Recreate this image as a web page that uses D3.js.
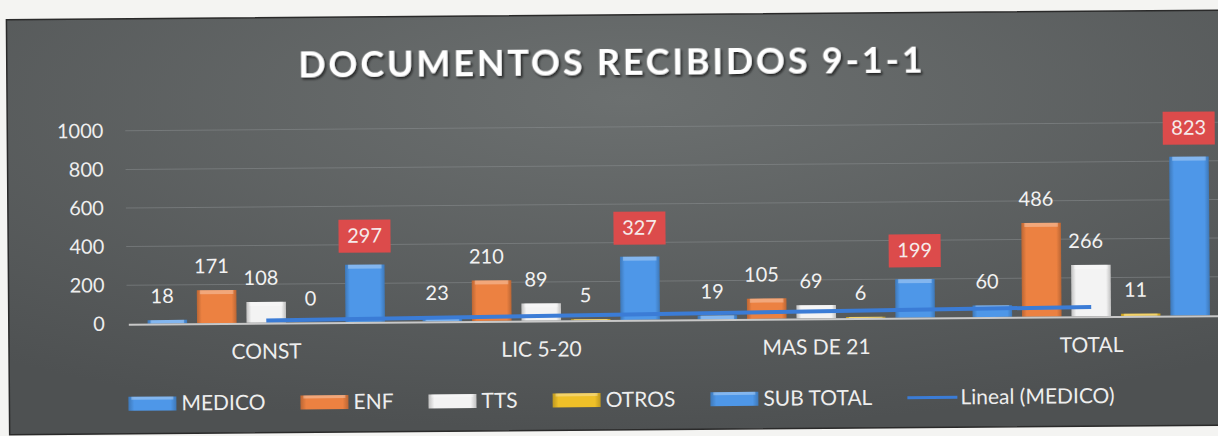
<!DOCTYPE html>
<html lang="es">

<head>
  <title>Documentos recibidos 9-1-1</title>
  <script src="https://cdn.jsdelivr.net/npm/d3@7/dist/d3.min.js"></script>
  <style>
    body { margin: 0; background: #f4f4f2; }
    text { font-family: Lato, "Open Sans", sans-serif; }
  </style>
</head>

<body>
  <script>
    var categories = ["CONST", "LIC 5-20", "MAS DE 21", "TOTAL"];
    var seriesNames = ["MEDICO", "ENF", "TTS", "OTROS", "SUB TOTAL"];
    var medico = [18, 23, 19, 60];
    var enf = [171, 210, 105, 486];
    var tts = [108, 89, 69, 266];
    var otros = [0, 5, 6, 11];
    var subTotal = [297, 327, 199, 823];
    var yTicks = [0, 200, 400, 600, 800, 1000];
    var trendName = "Lineal (MEDICO)";
    var title = "DOCUMENTOS RECIBIDOS 9-1-1";

    var colors = {
      "MEDICO": "#4a8fdc",
      "ENF": "#e07a3e",
      "TTS": "#e6e6e6",
      "OTROS": "#e3b626",
      "SUB TOTAL": "#4a8fdc"
    };

    var w = 1218;
    var h = 436;
    var margin = { top: 127, left: 128, right: -10, bottom: 116 };

    var values = [medico, enf, tts, otros, subTotal];
    var rows = categories.map(function (c, i) {
      return {
        cat: c,
        items: seriesNames.map(function (s, j) {
          return { series: s, value: values[j][i] };
        })
      };
    });

    var x0 = d3.scaleBand()
      .domain(categories)
      .range([margin.left, w - margin.right]);
    var x1 = d3.scaleBand()
      .domain(seriesNames)
      .range([0, x0.bandwidth()])
      .paddingInner(0.2)
      .paddingOuter(0.38);
    var y = d3.scaleLinear()
      .domain([0, 1000])
      .range([h - margin.bottom, margin.top]);

    var svg = d3.select("body").append("svg")
      .attr("width", w)
      .attr("height", h);

    var defs = svg.append("defs");
    var bg = defs.append("radialGradient")
      .attr("id", "bg")
      .attr("cx", "50%").attr("cy", "20%").attr("r", "80%");
    bg.append("stop").attr("offset", "0%").attr("stop-color", "#6c7070");
    bg.append("stop").attr("offset", "100%").attr("stop-color", "#4e5152");

    var shadow = defs.append("filter").attr("id", "shadow")
      .attr("x", "-10%").attr("y", "-30%").attr("width", "120%").attr("height", "160%");
    shadow.append("feDropShadow")
      .attr("dx", 1.5).attr("dy", 2).attr("stdDeviation", 1.2)
      .attr("flood-color", "#111").attr("flood-opacity", 0.8);

    // bevel-ish gradient for every colour
    Object.keys(colors).forEach(function (k, i) {
      var c = d3.color(colors[k]);
      var g = defs.append("linearGradient")
        .attr("id", "grad" + i)
        .attr("x1", "0").attr("x2", "1").attr("y1", "0").attr("y2", "0");
      g.append("stop").attr("offset", "0%").attr("stop-color", c.darker(0.5));
      g.append("stop").attr("offset", "12%").attr("stop-color", c.brighter(0.15));
      g.append("stop").attr("offset", "88%").attr("stop-color", c.brighter(0.15));
      g.append("stop").attr("offset", "100%").attr("stop-color", c.darker(0.5));
    });
    function fillFor(s) {
      return "url(#grad" + seriesNames.indexOf(s) + ")";
    }

    var chart = svg.append("g")
      .attr("transform", "rotate(-0.45, 610, 220)");

    chart.append("rect")
      .attr("x", 8)
      .attr("y", 15)
      .attr("width", 1240)
      .attr("height", 415)
      .attr("fill", "url(#bg)")
      .attr("stroke", "#2a2a2a")
      .attr("stroke-width", 1.5);

    // title
    chart.append("text")
      .attr("x", 613)
      .attr("y", 75)
      .attr("text-anchor", "middle")
      .attr("fill", "#ffffff")
      .attr("font-size", 36)
      .attr("font-weight", "bold")
      .attr("letter-spacing", 2.8)
      .attr("filter", "url(#shadow)")
      .text(title);

    // gridlines + y labels
    chart.append("g")
      .selectAll("line")
      .data(yTicks.slice(1))
      .enter()
      .append("line")
      .attr("x1", margin.left - 2)
      .attr("x2", w + 20)
      .attr("y1", function (d) { return y(d); })
      .attr("y2", function (d) { return y(d); })
      .attr("stroke", "#8e9293")
      .attr("stroke-opacity", 0.5)
      .attr("stroke-width", 1);

    var yAxis = chart.append("g")
      .attr("transform", "translate(104, 0)")
      .call(d3.axisLeft(y).tickValues(yTicks).tickFormat(d3.format("d")).tickSize(0).tickPadding(0));
    yAxis.select(".domain").remove();
    yAxis.selectAll("text")
      .attr("fill", "#eeeeee")
      .attr("font-size", 20)
      .attr("font-family", "Lato, sans-serif");

    // bars
    var groups = chart.selectAll(".cat")
      .data(rows)
      .enter()
      .append("g")
      .classed("cat", true)
      .attr("transform", function (d) { return "translate(" + x0(d.cat) + ",0)"; });

    groups.selectAll(".bar")
      .data(function (d) { return d.items; })
      .enter()
      .append("rect")
      .classed("bar", true)
      .attr("x", function (d) { return x1(d.series); })
      .attr("y", function (d) { return y(d.value); })
      .attr("width", x1.bandwidth())
      .attr("height", function (d) { return y(0) - y(d.value); })
      .attr("fill", function (d) { return fillFor(d.series); });

    // top highlight on bars
    groups.selectAll(".hl")
      .data(function (d) { return d.items.filter(function (e) { return e.value > 0; }); })
      .enter()
      .append("rect")
      .attr("x", function (d) { return x1(d.series) + 3; })
      .attr("y", function (d) { return y(d.value); })
      .attr("width", x1.bandwidth() - 6)
      .attr("height", function (d) { return Math.min(4, y(0) - y(d.value)); })
      .attr("fill", "#ffffff")
      .attr("fill-opacity", 0.3);

    // baseline
    chart.append("line")
      .attr("x1", margin.left)
      .attr("x2", w + 20)
      .attr("y1", y(0) + 1)
      .attr("y2", y(0) + 1)
      .attr("stroke", "#c8c8c8")
      .attr("stroke-width", 2);

    // linear trend of MEDICO
    var n = medico.length;
    var mx = d3.mean(d3.range(1, n + 1));
    var my = d3.mean(medico);
    var slope = d3.sum(medico, function (v, i) { return (i + 1 - mx) * (v - my); }) /
      d3.sum(d3.range(1, n + 1), function (k) { return (k - mx) * (k - mx); });
    var icpt = my - slope * mx;
    var trend = categories.map(function (c, i) { return { cat: c, value: icpt + slope * (i + 1) }; });

    chart.append("path")
      .datum([trend[0], trend[n - 1]])
      .attr("fill", "none")
      .attr("stroke", "#3b7cd6")
      .attr("stroke-width", 4)
      .attr("d", d3.line()
        .x(function (d) { return x0(d.cat) + x0.bandwidth() / 2; })
        .y(function (d) { return y(d.value); }));

    // data labels
    groups.selectAll(".lbl")
      .data(function (d) { return d.items.filter(function (e) { return e.series !== "SUB TOTAL"; }); })
      .enter()
      .append("text")
      .attr("x", function (d) { return x1(d.series) + x1.bandwidth() / 2 - 5; })
      .attr("y", function (d) { return y(d.value) - 17; })
      .attr("text-anchor", "middle")
      .attr("fill", "#f2f2f2")
      .attr("font-size", 20)
      .text(function (d) { return d.value; });

    var boxes = groups.selectAll(".box")
      .data(function (d) { return d.items.filter(function (e) { return e.series === "SUB TOTAL"; }); })
      .enter()
      .append("g")
      .attr("transform", function (d) {
        return "translate(" + (x1(d.series) + x1.bandwidth() / 2) + "," + (y(d.value) - 29) + ")";
      });
    boxes.append("rect")
      .attr("x", -26)
      .attr("y", -16)
      .attr("width", 52)
      .attr("height", 33)
      .attr("fill", "#dc4b4b");
    boxes.append("text")
      .attr("y", 7)
      .attr("text-anchor", "middle")
      .attr("fill", "#f6eaea")
      .attr("font-size", 20)
      .text(function (d) { return d.value; });

    // category labels
    chart.selectAll(".catlbl")
      .data(categories)
      .enter()
      .append("text")
      .attr("x", function (d) { return x0(d) + x0.bandwidth() / 2; })
      .attr("y", y(0) + 36)
      .attr("text-anchor", "middle")
      .attr("fill", "#eeeeee")
      .attr("font-size", 21)
      .text(function (d) { return d; });

    // legend
    var legendItems = seriesNames.concat([trendName]);
    var legend = chart.append("g").attr("transform", "translate(127, 400)");
    var lx = 0;
    legendItems.forEach(function (name) {
      var item = legend.append("g").attr("transform", "translate(" + lx + ",0)");
      if (name === trendName) {
        item.append("line")
          .attr("x1", 0).attr("x2", 50)
          .attr("y1", 0).attr("y2", 0)
          .attr("stroke", "#3b7cd6")
          .attr("stroke-width", 3);
      } else {
        item.append("rect")
          .attr("x", 0).attr("y", -7)
          .attr("width", 48).attr("height", 14)
          .attr("fill", fillFor(name));
        item.append("rect")
          .attr("x", 3).attr("y", -7)
          .attr("width", 42).attr("height", 3)
          .attr("fill", "#fff").attr("fill-opacity", 0.3);
      }
      var t = item.append("text")
        .attr("x", 53)
        .attr("y", 7)
        .attr("fill", "#eeeeee")
        .attr("font-size", 21)
        .text(name);
      lx += 53 + t.node().getComputedTextLength() + 35;
    });
  </script>
</body>

</html>
